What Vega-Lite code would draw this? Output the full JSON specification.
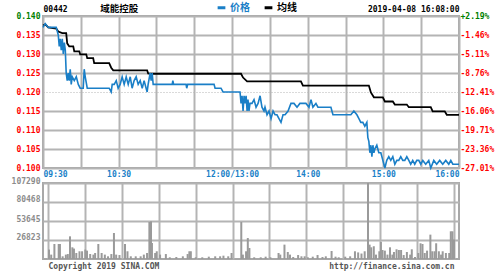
{
 "$schema": "https://vega.github.io/schema/vega-lite/v6.json",
 "background": "#ffffff",
 "padding": {"left": 10, "top": 2, "right": 4, "bottom": 4},
 "bounds": "flush",
 "spacing": 15,
 "config": {
  "font": "DejaVu Sans Mono",
  "view": {"stroke": "#a8a8a8", "strokeWidth": 2},
  "axis": {"gridColor": "#b4b4b4", "gridWidth": 2, "gridOpacity": 1, "domain": false, "ticks": false, "tickSize": 0, "offset": 0, "labelFont": "DejaVu Sans Mono", "labelFontWeight": "bold", "labelFontSize": 8, "title": null, "labelOverlap": false, "labelFlush": false}
 },
 "datasets": {
  "price": [
   {"t":0,"p":0.137},{"t":1.8,"p":0.138},{"t":4.2,"p":0.137},{"t":6.6,"p":0.137},{"t":10.5,"p":0.137},
   {"t":12.1,"p":0.135},{"t":12.9,"p":0.132},{"t":13.7,"p":0.134},{"t":14.5,"p":0.131},{"t":15.3,"p":0.134},
   {"t":16.1,"p":0.130},{"t":16.9,"p":0.133},{"t":17.7,"p":0.131},{"t":18.4,"p":0.125},{"t":19.2,"p":0.123},
   {"t":20,"p":0.125},{"t":20.8,"p":0.123},{"t":21.6,"p":0.126},{"t":22.4,"p":0.122},{"t":23.2,"p":0.124},
   {"t":24.8,"p":0.123},{"t":26.4,"p":0.124},{"t":28,"p":0.122},{"t":29.5,"p":0.121},{"t":31.9,"p":0.121},
   {"t":32.7,"p":0.126},{"t":33.5,"p":0.124},{"t":35.1,"p":0.121},{"t":42.2,"p":0.121},{"t":52.5,"p":0.121},
   {"t":54.1,"p":0.120},{"t":54.9,"p":0.122},{"t":56.5,"p":0.122},{"t":58.1,"p":0.123},{"t":59.6,"p":0.121},
   {"t":61.2,"p":0.122},{"t":62.8,"p":0.124},{"t":64.4,"p":0.122},{"t":66,"p":0.124},{"t":67.6,"p":0.122},
   {"t":69.2,"p":0.124},{"t":70.7,"p":0.121},{"t":72.3,"p":0.123},{"t":73.9,"p":0.124},{"t":75.5,"p":0.122},
   {"t":77.1,"p":0.123},{"t":78.7,"p":0.121},{"t":80.2,"p":0.123},{"t":81.8,"p":0.121},{"t":82.6,"p":0.120},
   {"t":83.4,"p":0.122},{"t":85,"p":0.125},{"t":85.8,"p":0.123},{"t":86.6,"p":0.125},{"t":87.4,"p":0.122},
   {"t":102.5,"p":0.122},{"t":103,"p":0.123},{"t":103.6,"p":0.122},{"t":113.5,"p":0.122},{"t":114,"p":0.121},
   {"t":114.8,"p":0.122},{"t":135.7,"p":0.122},{"t":136.5,"p":0.121},{"t":141.2,"p":0.121},{"t":142.8,"p":0.120},
   {"t":156.3,"p":0.120},{"t":157.1,"p":0.117},{"t":157.9,"p":0.119},{"t":158.7,"p":0.115},{"t":159.5,"p":0.119},
   {"t":160.3,"p":0.117},{"t":161.1,"p":0.119},{"t":161.9,"p":0.115},{"t":162.6,"p":0.118},{"t":163.4,"p":0.115},
   {"t":164.2,"p":0.117},{"t":165.8,"p":0.117},{"t":167.4,"p":0.118},{"t":169,"p":0.116},{"t":170.6,"p":0.117},
   {"t":172.2,"p":0.119},{"t":173.7,"p":0.116},{"t":175.3,"p":0.115},{"t":176.1,"p":0.116},{"t":177.7,"p":0.114},
   {"t":179.3,"p":0.115},{"t":180.9,"p":0.113},{"t":182.5,"p":0.115},{"t":184.1,"p":0.114},{"t":185.6,"p":0.114},
   {"t":187.2,"p":0.113},{"t":188.8,"p":0.112},{"t":190.4,"p":0.114},{"t":192,"p":0.114},{"t":194.4,"p":0.115},
   {"t":196.7,"p":0.117},{"t":199.1,"p":0.117},{"t":201.5,"p":0.116},{"t":203.8,"p":0.117},{"t":206.2,"p":0.117},
   {"t":208.6,"p":0.117},{"t":211,"p":0.116},{"t":212.6,"p":0.118},{"t":214.1,"p":0.116},{"t":216.5,"p":0.117},
   {"t":218.1,"p":0.116},{"t":228.4,"p":0.116},{"t":230,"p":0.114},{"t":244.2,"p":0.114},{"t":246.6,"p":0.115},
   {"t":249,"p":0.114},{"t":250.6,"p":0.113},{"t":252.1,"p":0.112},{"t":253.7,"p":0.112},{"t":255.3,"p":0.111},
   {"t":256.9,"p":0.112},{"t":257.7,"p":0.108},{"t":258.5,"p":0.107},{"t":259.3,"p":0.104},{"t":260.1,"p":0.106},
   {"t":260.9,"p":0.103},{"t":261.7,"p":0.106},{"t":262.5,"p":0.104},{"t":263.2,"p":0.105},{"t":264.8,"p":0.106},
   {"t":266.4,"p":0.104},{"t":268,"p":0.104},{"t":269.6,"p":0.102},{"t":271.2,"p":0.100},{"t":272.7,"p":0.102},
   {"t":274.3,"p":0.103},{"t":275.9,"p":0.102},{"t":277.5,"p":0.103},{"t":279.1,"p":0.101},{"t":280.7,"p":0.102},
   {"t":282.2,"p":0.102},{"t":283.8,"p":0.103},{"t":285.4,"p":0.102},{"t":287,"p":0.102},{"t":288.6,"p":0.103},
   {"t":290.2,"p":0.102},{"t":291.7,"p":0.101},{"t":293.3,"p":0.102},{"t":294.9,"p":0.101},{"t":296.5,"p":0.102},
   {"t":298.1,"p":0.102},{"t":299.7,"p":0.101},{"t":301.3,"p":0.102},{"t":303.6,"p":0.101},{"t":306,"p":0.102},
   {"t":307.6,"p":0.100},{"t":310,"p":0.102},{"t":312.3,"p":0.101},{"t":314.7,"p":0.102},{"t":317.1,"p":0.101},
   {"t":319.5,"p":0.102},{"t":321.9,"p":0.101},{"t":323.5,"p":0.102},{"t":325.1,"p":0.101},{"t":327.4,"p":0.101},
   {"t":330,"p":0.101}
  ],
  "avg": [
   {"t":0,"p":0.1375},{"t":1.8,"p":0.1378},{"t":4.2,"p":0.1370},{"t":10.5,"p":0.1367},{"t":12.1,"p":0.1359},
   {"t":15.3,"p":0.1355},{"t":18.4,"p":0.1355},{"t":19.2,"p":0.1328},{"t":20.8,"p":0.1320},{"t":24,"p":0.1320},
   {"t":24.8,"p":0.1307},{"t":28.8,"p":0.1307},{"t":29.5,"p":0.1299},{"t":34.3,"p":0.1299},{"t":35.1,"p":0.1289},
   {"t":39.8,"p":0.1289},{"t":40.6,"p":0.1276},{"t":52.5,"p":0.1276},{"t":54.1,"p":0.1264},{"t":55.7,"p":0.1257},
   {"t":82.6,"p":0.1257},{"t":83.4,"p":0.1249},{"t":85.8,"p":0.1248},{"t":157.1,"p":0.1248},{"t":158.7,"p":0.1238},
   {"t":161.9,"p":0.1228},{"t":204.6,"p":0.1228},{"t":206.2,"p":0.1217},{"t":258.5,"p":0.1217},{"t":260.1,"p":0.1199},
   {"t":262.5,"p":0.1186},{"t":269.6,"p":0.1186},{"t":271.2,"p":0.1175},{"t":277.5,"p":0.1175},{"t":279.1,"p":0.1167},
   {"t":288.6,"p":0.1167},{"t":290.2,"p":0.1160},{"t":307.6,"p":0.1160},{"t":309.1,"p":0.1149},{"t":318.7,"p":0.1149},
   {"t":320.3,"p":0.1140},{"t":330,"p":0.1140}
  ],
  "vol": [
   {"t":0.8,"v":13300},{"t":2.6,"v":6200},{"t":5.2,"v":21200},{"t":8.7,"v":21200},{"t":9.7,"v":21200},
   {"t":11.9,"v":3800},{"t":14.5,"v":6200},{"t":16.1,"v":7000},{"t":17.9,"v":32000},{"t":19.8,"v":16500},
   {"t":21.1,"v":14700},{"t":23,"v":8500},{"t":25.6,"v":10900},{"t":27.7,"v":10900},{"t":30.3,"v":13300},
   {"t":31.7,"v":11800},{"t":34.3,"v":7100},{"t":36.9,"v":6200},{"t":38.3,"v":8500},{"t":40.9,"v":21200},
   {"t":43.6,"v":8500},{"t":46.2,"v":6200},{"t":48.8,"v":3800},{"t":51.5,"v":7000},{"t":53.6,"v":36700},
   {"t":55.4,"v":6200},{"t":58.1,"v":5600},{"t":62.6,"v":21200},{"t":64.6,"v":10900},{"t":67.3,"v":3800},
   {"t":71.3,"v":3800},{"t":75.3,"v":3800},{"t":77.9,"v":6200},{"t":80.5,"v":8500},{"t":82.4,"v":52200},
   {"t":83.7,"v":53200},{"t":84.5,"v":22600},{"t":87.1,"v":8500},{"t":88.4,"v":10900},{"t":91.1,"v":6200},
   {"t":95.8,"v":7000},{"t":99,"v":2400},{"t":104.3,"v":2800},{"t":109.6,"v":3800},{"t":113.5,"v":7000},
   {"t":114.9,"v":10900},{"t":116.1,"v":10900},{"t":120.1,"v":2400},{"t":125.4,"v":2400},{"t":130.7,"v":3300},
   {"t":135.9,"v":3800},{"t":139.9,"v":3800},{"t":142.6,"v":4700},{"t":146.5,"v":3800},{"t":149.2,"v":8500},
   {"t":157.1,"v":52200},{"t":158.4,"v":6200},{"t":161,"v":10900},{"t":162.4,"v":29600},{"t":163.7,"v":15500},
   {"t":167.6,"v":2400},{"t":172.9,"v":2400},{"t":176.9,"v":3300},{"t":180.8,"v":2400},{"t":187.4,"v":8500},
   {"t":188.8,"v":6200},{"t":192.2,"v":20300},{"t":194.9,"v":9900},{"t":196.7,"v":6200},{"t":199.3,"v":2800},
   {"t":203.3,"v":5600},{"t":206,"v":3800},{"t":208.6,"v":3800},{"t":211.2,"v":2400},{"t":215.2,"v":3300},
   {"t":219.1,"v":5600},{"t":223.1,"v":2800},{"t":225.8,"v":3800},{"t":230.5,"v":11300},{"t":233.7,"v":3300},
   {"t":236.3,"v":2400},{"t":241.6,"v":3300},{"t":245.6,"v":3800},{"t":249.5,"v":10900},{"t":252.1,"v":9300},
   {"t":254.8,"v":7700},{"t":257.4,"v":10900},{"t":260.1,"v":107290},{"t":261.4,"v":20300},{"t":262.7,"v":16500},
   {"t":264.8,"v":18000},{"t":266.6,"v":6200},{"t":269.3,"v":10900},{"t":270.6,"v":24000},{"t":271.9,"v":12700},
   {"t":273.8,"v":11800},{"t":275.9,"v":6200},{"t":278,"v":16500},{"t":279.9,"v":6200},{"t":281.2,"v":9900},
   {"t":283.3,"v":13700},{"t":285.2,"v":12700},{"t":287,"v":12700},{"t":289.1,"v":5600},{"t":291.7,"v":9900},
   {"t":294.4,"v":6200},{"t":295.7,"v":13700},{"t":298.3,"v":2800},{"t":301,"v":8500},{"t":302.8,"v":22200},
   {"t":304.4,"v":21200},{"t":306.2,"v":8500},{"t":308.1,"v":11800},{"t":310.8,"v":34400},{"t":312.3,"v":10900},
   {"t":314.2,"v":10900},{"t":315.5,"v":22200},{"t":317.7,"v":10900},{"t":319.5,"v":6200},{"t":320.8,"v":10900},
   {"t":323.4,"v":8500},{"t":326.1,"v":8500},{"t":327.4,"v":39100},{"t":328.7,"v":39100},{"t":330,"v":27400}
  ]
 },
 "vconcat": [
  {
   "width": 416,
   "height": 152,
   "layer": [
    {
     "mark": {"type": "rule", "color": "#000000", "strokeWidth": 1.5},
     "encoding": {
      "y": {"datum": 0.137, "type": "quantitative", "scale": {"domain": [0.1, 0.14], "nice": false, "zero": false}, "axis": null}
     }
    },
    {
     "data": {"name": "avg"},
     "mark": {"type": "line", "strokeWidth": 1.8},
     "encoding": {
      "x": {"field": "t", "type": "quantitative", "scale": {"domain": [0, 330], "nice": false, "zero": false},
       "axis": {"orient": "top", "offset": 0, "values": [0, 60, 330], "grid": false, "labelPadding": 3, "labelColor": "#000000",
        "labelExpr": "datum.value == 0 ? '00442' : datum.value == 60 ? '域能控股' : '2019-04-08 16:08:00'",
        "labelAlign": {"condition": [{"test": "datum.value == 0", "value": "left"}, {"test": "datum.value == 330", "value": "right"}], "value": "center"},
        "labelFont": {"condition": {"test": "datum.value == 60", "value": "Noto Sans CJK SC"}, "value": "DejaVu Sans Mono"},
        "labelFontSize": {"condition": {"test": "datum.value == 60", "value": 9.5}, "value": 8}}},
      "y": {"field": "p", "type": "quantitative", "scale": {"domain": [0.1, 0.14], "nice": false, "zero": false},
       "axis": {"orient": "right", "offset": 0, "values": [0.1, 0.105, 0.11, 0.115, 0.12, 0.125, 0.13, 0.135, 0.14], "grid": false, "labelPadding": 1,
        "labelExpr": "(datum.value >= 0.137 ? '+' : '-') + format(abs(datum.value / 0.137 - 1) * 100, '.2f') + '%'",
        "labelColor": {"condition": {"test": "datum.value > 0.137", "value": "#008000"}, "value": "#ff0000"}}},
      "color": {"datum": "均线", "type": "nominal", "scale": {"domain": ["价格", "均线"], "range": ["#1a7fc7", "#000000"]}}
     }
    },
    {
     "data": {"name": "price"},
     "mark": {"type": "line", "strokeWidth": 1.6},
     "encoding": {
      "x": {"field": "t", "type": "quantitative", "scale": {"domain": [0, 330], "nice": false, "zero": false},
       "axis": {"orient": "bottom", "offset": 0, "values": [0, 30, 60, 90, 120, 150, 180, 210, 240, 270, 300, 330], "grid": true, "labelPadding": 2, "labelColor": "#1a7fc7",
        "labelAlign": {"condition": [{"test": "datum.value == 0", "value": "left"}, {"test": "datum.value == 330", "value": "right"}], "value": "center"},
        "labelExpr": "datum.value == 0 ? '09:30' : datum.value == 60 ? '10:30' : datum.value == 150 ? '12:00/13:00' : datum.value == 210 ? '14:00' : datum.value == 270 ? '15:00' : datum.value == 330 ? '16:00' : ''"}},
      "y": {"field": "p", "type": "quantitative", "scale": {"domain": [0.1, 0.14], "nice": false, "zero": false},
       "axis": {"orient": "left", "offset": 0, "values": [0.1, 0.105, 0.11, 0.115, 0.12, 0.125, 0.13, 0.135, 0.14], "format": ".3f", "grid": true, "labelPadding": 3,
        "gridDash": {"condition": {"test": "abs(datum.value - 0.12) < 0.0001", "value": [1, 2]}, "value": []},
        "gridWidth": {"condition": {"test": "abs(datum.value - 0.12) < 0.0001", "value": 1}, "value": 2},
        "labelColor": {"condition": {"test": "datum.value > 0.137", "value": "#008000"}, "value": "#ff0000"}}},
      "color": {"datum": "价格", "type": "nominal", "scale": {"domain": ["价格", "均线"], "range": ["#1a7fc7", "#000000"]},
       "legend": {"orient": "none", "legendX": 173, "legendY": -14, "direction": "horizontal", "title": null, "padding": 0,
        "symbolType": "stroke", "symbolSize": 60, "symbolStrokeWidth": 3, "labelFont": "Noto Sans CJK SC", "labelFontSize": 10, "labelFontWeight": "bold",
        "labelOffset": 3, "columnPadding": 8,
        "encode": {"labels": {"update": {"fill": {"scale": "color", "field": "value"}}}}}}
     }
    }
   ],
   "resolve": {"scale": {"x": "independent", "y": "independent"}, "axis": {"x": "independent", "y": "independent"}}
  },
  {
   "width": 416,
   "height": 76,
   "data": {"name": "vol"},
   "mark": {"type": "bar", "size": 2, "color": "#9a9a9a"},
   "encoding": {
    "x": {"field": "t", "type": "quantitative", "scale": {"domain": [0, 330], "nice": false, "zero": false},
     "axis": {"offset": 0, "values": [0, 30, 60, 90, 120, 150, 180, 210, 240, 270, 300, 330], "grid": true, "labelPadding": 3, "labelColor": "#555555",
      "labelAlign": {"condition": {"test": "datum.value == 0", "value": "left"}, "value": "right"},
      "labelExpr": "datum.value == 0 ? 'Copyright 2019 SINA.COM' : datum.value == 330 ? 'http://finance.sina.com.cn' : ''"}},
    "y": {"field": "v", "type": "quantitative", "scale": {"domain": [0, 107290], "nice": false, "zero": true},
     "axis": {"offset": 0, "values": [26823, 53645, 80468, 107290], "format": "d", "grid": true, "labelPadding": 3, "labelOffset": -2, "labelColor": "#8c8c8c"}}
   }
  }
 ]
}
